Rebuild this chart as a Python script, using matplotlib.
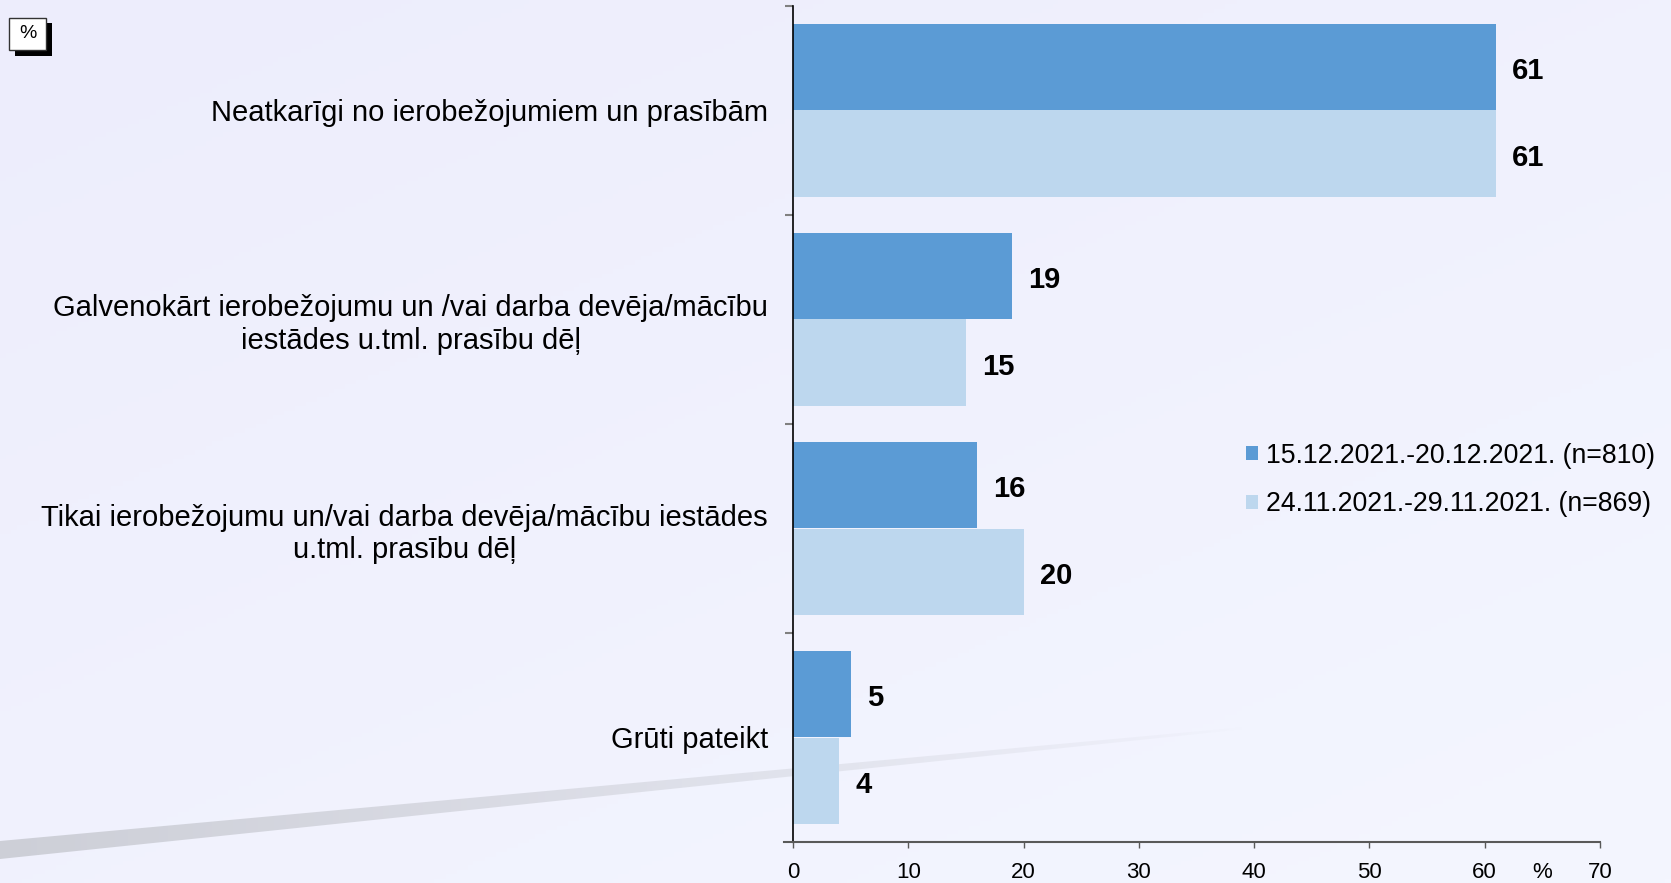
import numpy as np
import matplotlib.pyplot as plt
from matplotlib.patches import Rectangle, Polygon, Patch

W, H = 1671, 883
plt.rcParams['font.family'] = ['Liberation Sans', 'DejaVu Sans']

categories = [
    'Neatkarīgi no ierobežojumiem un prasībām',
    'Galvenokārt ierobežojumu un /vai darba devēja/mācību\niestādes u.tml. prasību dēļ',
    'Tikai ierobežojumu un/vai darba devēja/mācību iestādes\nu.tml. prasību dēļ',
    'Grūti pateikt',
]
dec_values = [61, 19, 16, 5]
nov_values = [61, 15, 20, 4]
series_labels = ['15.12.2021.-20.12.2021. (n=810)', '24.11.2021.-29.11.2021. (n=869)']
xticks = [0, 10, 20, 30, 40, 50, 60, 70]

dark = '#5B9BD5'
light = '#BDD7EE'

fig = plt.figure(figsize=(W / 100, H / 100), dpi=100)

# soft lavender background with a grey sweep in the lower left
bg = fig.add_axes([0, 0, 1, 1], zorder=-10)
bg.set_xlim(0, W)
bg.set_ylim(H, 0)
bg.axis('off')
yy, xx = np.mgrid[0:1:200j, 0:1:300j]
t = np.clip(0.55 * yy + 0.45 * xx, 0, 1)[..., None]
c0 = np.array([237, 237, 252]) / 255
c1 = np.array([244, 246, 255]) / 255
bg.imshow(c0 + (c1 - c0) * t, extent=(0, W, H, 0), aspect='auto')

sweep = Polygon([(0, 841), (1245, 727), (1245, 729), (0, 859)], closed=True,
                facecolor='none', edgecolor='none')
bg.add_patch(sweep)
gx = np.linspace(0, 1, 400)
grad = np.zeros((2, 400, 4))
grad[..., :3] = np.array([205, 207, 215]) / 255
grad[..., 3] = np.clip(1 - gx, 0, 1) ** 0.8
im = bg.imshow(grad, extent=(0, 1245, 861, 725), aspect='auto')
im.set_clip_path(sweep)

# "%" badge with drop shadow
fig.patches.append(Rectangle((15 / W, 1 - 56 / H), 37 / W, 33 / H, transform=fig.transFigure,
                             facecolor='black', edgecolor='none', zorder=1))
fig.patches.append(Rectangle((9 / W, 1 - 50 / H), 37 / W, 32 / H, transform=fig.transFigure,
                             facecolor='white', edgecolor='#333333', lw=1, zorder=2))
fig.text(27.5 / W, 1 - 34 / H, '%', ha='center', va='center', fontsize=14, zorder=3)

# main chart
ax = fig.add_axes([793 / W, (H - 842) / H, (1600 - 793) / W, (842 - 6) / H])
ax.patch.set_alpha(0)

y = np.arange(len(categories))
bh = 0.416
b1 = ax.barh(y - bh / 2, dec_values, height=bh, color=dark, label=series_labels[0])
b2 = ax.barh(y + bh / 2, nov_values, height=bh, color=light, label=series_labels[1])

for bars, vals in ((b1, dec_values), (b2, nov_values)):
    for bar, v in zip(bars, vals):
        ax.annotate(str(v), (v, bar.get_y() + bar.get_height() / 2),
                    xytext=(11.5, -1), textcoords='offset points',
                    ha='left', va='center_baseline', fontsize=21, fontweight='bold')

ax.set_xlim(0, 70)
ax.set_ylim(len(categories) - 0.5, -0.5)

ax.set_yticks(y)
ax.set_yticklabels(categories, fontsize=21, linespacing=1.2)
for lab in ax.get_yticklabels():
    lab.set_multialignment('center')
ax.set_yticks(np.arange(len(categories)) - 0.5, minor=True)
ax.tick_params(axis='y', which='major', length=0, pad=18)
ax.tick_params(axis='y', which='minor', length=6, width=1.5, color='#808080', direction='out')

ax.set_xticks(xticks)
ax.tick_params(axis='x', length=4.5, width=1, color='#595959', labelsize=16, pad=10)
ax.annotate('%', xy=(65, 0), xycoords=('data', 'axes fraction'), xytext=(0, -14.5),
            textcoords='offset points', ha='center', va='top', fontsize=16)

for s in ('top', 'right'):
    ax.spines[s].set_visible(False)
ax.spines['left'].set_color('black')
ax.spines['left'].set_linewidth(1.2)
ax.spines['bottom'].set_color('#595959')
ax.spines['bottom'].set_linewidth(1.5)
ax.plot([-0.8, 0], [len(categories) - 0.5] * 2, color='#595959', lw=1.5, clip_on=False)

handles = [Patch(facecolor=dark), Patch(facecolor=light)]
fig.legend(handles, series_labels, loc='center left',
           bbox_to_anchor=(1246 / W, 1 - 480 / H), frameon=False, fontsize=19.2,
           handlelength=0.45, handleheight=0.45, handletextpad=0.3,
           labelspacing=0.85, borderpad=0, borderaxespad=0)

fig.savefig('out.png', dpi=100)
